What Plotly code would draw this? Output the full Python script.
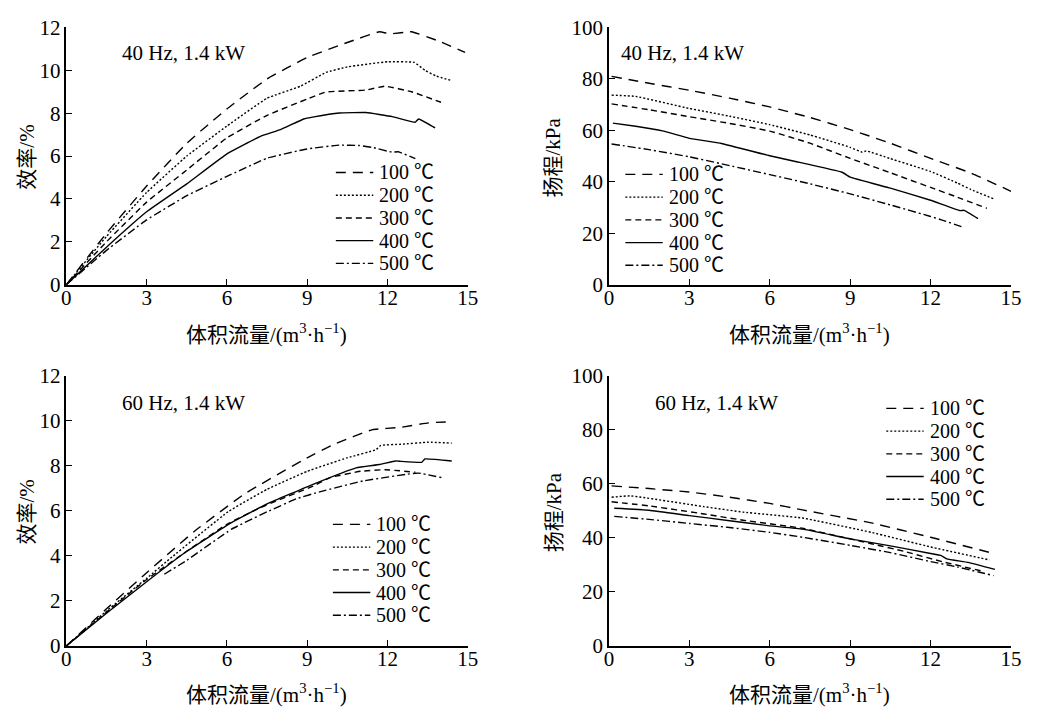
import plotly.graph_objects as go

W, H = 1043, 723
SERIF = "Liberation Serif, 'Noto Sans CJK SC', serif"

temps = ["100 ℃", "200 ℃", "300 ℃", "400 ℃", "500 ℃"]
dashes = ["10px,7px", "2px,2px", "6px,4px", "solid", "8px,3px,2px,3px"]

# ---- Panel 1: 40 Hz efficiency (%)
p1_x_100 = [0, 1.5, 3, 4.5, 6, 7.5, 9, 10.5, 11.7, 12.1, 12.9, 13.9, 14.9]
p1_y_100 = [0, 2.4, 4.6, 6.6, 8.2, 9.6, 10.6, 11.3, 11.8, 11.7, 11.8, 11.37, 10.84]
p1_x_200 = [0, 1.5, 3, 4.5, 6, 7.5, 8.75, 9.7, 10.5, 12, 13, 13.4, 13.8, 14.4]
p1_y_200 = [0, 2.25, 4.3, 6.0, 7.4, 8.7, 9.26, 9.9, 10.16, 10.4, 10.37, 10.0, 9.74, 9.52]
p1_x_300 = [0, 1.5, 3, 4.5, 6, 7.5, 9, 9.7, 11.2, 11.9, 12.9, 14.0]
p1_y_300 = [0, 2.0, 3.85, 5.35, 6.85, 7.9, 8.66, 8.99, 9.08, 9.26, 9.0, 8.51]
p1_x_400 = [0, 1.5, 3, 4.5, 6, 7.27, 8.0, 8.87, 9.25, 10.2, 11.2, 12.18, 13.04, 13.16, 13.78]
p1_y_400 = [0, 1.75, 3.4, 4.7, 6.1, 6.93, 7.23, 7.73, 7.83, 8.01, 8.03, 7.84, 7.58, 7.73, 7.31]
p1_x_500 = [0, 1.5, 3, 4.5, 6, 7.5, 8.99, 10.2, 10.95, 11.44, 12.18, 12.4, 13.04]
p1_y_500 = [0, 1.6, 3.02, 4.15, 5.05, 5.9, 6.33, 6.51, 6.49, 6.4, 6.18, 6.2, 5.88]

# ---- Panel 2: 40 Hz head (kPa)
p2_x_100 = [0.1, 1.5, 3, 4.5, 6, 7.5, 9, 10.5, 12, 13.5, 15]
p2_y_100 = [81, 78.3, 75.6, 72.5, 69.1, 65, 60.3, 55, 49.1, 43.4, 36.3]
p2_x_200 = [0.1, 1, 3, 4.5, 6, 7.5, 9, 9.45, 9.6, 10.5, 12, 13, 13.5, 14.4]
p2_y_200 = [73.7, 73.2, 68.5, 65.5, 62.2, 58.2, 53.4, 51.5, 52.0, 49, 44, 39.5, 37, 33.2]
p2_x_300 = [0.1, 1.5, 3, 4.5, 6, 7.5, 9, 10.5, 12, 13, 14.1]
p2_y_300 = [70.3, 68, 65.3, 62.7, 59.7, 55, 49.1, 43.5, 37.8, 34, 29.7]
p2_x_400 = [0.15, 1, 2, 3, 4.2, 6, 7, 8.7, 9.0, 10.5, 12, 13.1, 13.25, 13.77]
p2_y_400 = [62.8, 61.6, 59.8, 56.9, 54.9, 50.1, 47.8, 43.7, 41.8, 37.5, 32.8, 28.8, 28.9, 25.7]
p2_x_500 = [0.1, 1.5, 3, 4.5, 6, 7.5, 9, 10.5, 12, 12.4, 13.2]
p2_y_500 = [54.7, 52.5, 49.7, 46.3, 42.8, 39.2, 35.3, 31, 26.5, 25.2, 22.4]

# ---- Panel 3: 60 Hz efficiency (%)
p3_x_100 = [0, 1.5, 3, 4.8, 6.66, 9, 10, 11.44, 12.5, 13.53, 14.4]
p3_y_100 = [0, 1.65, 3.25, 5.1, 6.75, 8.35, 8.95, 9.6, 9.7, 9.9, 9.95]
p3_x_200 = [0, 1.5, 3, 3.96, 6.05, 7.5, 9, 10.5, 11.57, 11.75, 12.5, 13.53, 14.4]
p3_y_200 = [0, 1.55, 3.0, 3.96, 5.96, 6.95, 7.75, 8.35, 8.71, 8.9, 8.95, 9.04, 9.0]
p3_x_300 = [0, 1.5, 3, 4.5, 6, 7.27, 9.24, 9.85, 11.0, 11.93, 13.04]
p3_y_300 = [0, 1.5, 2.95, 4.2, 5.4, 6.15, 7.1, 7.47, 7.75, 7.82, 7.71]
p3_x_400 = [0, 1.5, 3, 4.5, 6.17, 7.5, 9.24, 10.83, 11.7, 12.3, 12.5, 13.28, 13.4, 14.4]
p3_y_400 = [0, 1.45, 2.85, 4.2, 5.47, 6.3, 7.18, 7.9, 8.05, 8.21, 8.19, 8.15, 8.3, 8.21]
p3_x_500 = [3.66, 4.5, 6.17, 7.5, 8.62, 9.5, 11.08, 12.67, 13.16, 14.02]
p3_y_500 = [3.18, 3.8, 5.18, 5.95, 6.54, 6.85, 7.32, 7.61, 7.67, 7.47]

# ---- Panel 4: 60 Hz head (kPa)
p4_x_100 = [0.1, 1.5, 3, 4.5, 6, 7.22, 9.79, 12, 14.35]
p4_y_100 = [59.2, 58.2, 56.9, 55, 52.7, 50.3, 45.5, 40.2, 34.2]
p4_x_200 = [0.1, 0.8, 3.55, 5, 7.22, 9.79, 12, 14.2]
p4_y_200 = [55.0, 55.5, 51.5, 49.5, 47.3, 42, 36.6, 31.8]
p4_x_300 = [0.1, 1.5, 3.55, 5, 7.22, 9.79, 11, 12.5, 14.0]
p4_y_300 = [53.3, 51.8, 48.8, 46.5, 43.5, 37.8, 35, 31, 27.5]
p4_x_400 = [0.2, 1.5, 3, 4.5, 6, 7.22, 9, 10.5, 12, 12.4, 12.6, 13.4, 14.4]
p4_y_400 = [50.9, 50.2, 48.2, 46.3, 44.4, 43.2, 39.6, 37, 34.2, 33.4, 32.2, 30.9, 28.3]
p4_x_500 = [0.2, 1.5, 3, 4.5, 6, 7.22, 9, 10.5, 12, 13, 14.35]
p4_y_500 = [47.9, 46.8, 45.3, 43.8, 42, 40.2, 37.2, 34.5, 31.2, 29.2, 26.0]

x_ticks = [0, 3, 6, 9, 12, 15]
eff_ticks = [0, 2, 4, 6, 8, 10, 12]
head_ticks = [0, 20, 40, 60, 80, 100]

panels = [
    ("x", "y", [(p1_x_100, p1_y_100), (p1_x_200, p1_y_200), (p1_x_300, p1_y_300), (p1_x_400, p1_y_400), (p1_x_500, p1_y_500)]),
    ("x2", "y2", [(p2_x_100, p2_y_100), (p2_x_200, p2_y_200), (p2_x_300, p2_y_300), (p2_x_400, p2_y_400), (p2_x_500, p2_y_500)]),
    ("x3", "y3", [(p3_x_100, p3_y_100), (p3_x_200, p3_y_200), (p3_x_300, p3_y_300), (p3_x_400, p3_y_400), (p3_x_500, p3_y_500)]),
    ("x4", "y4", [(p4_x_100, p4_y_100), (p4_x_200, p4_y_200), (p4_x_300, p4_y_300), (p4_x_400, p4_y_400), (p4_x_500, p4_y_500)]),
]

LW = 1.4
fig = go.Figure()
for xa, ya, series in panels:
    for (xs, ys), name, d in zip(series, temps, dashes):
        fig.add_trace(go.Scatter(
            x=xs, y=ys, mode="lines", name=name, xaxis=xa, yaxis=ya, showlegend=False,
            line=dict(color="black", width=LW, dash=d, shape="spline", smoothing=0.3),
        ))

def px_x(p):
    return p / W

def px_y(p):
    return 1 - p / H

xl = [px_x(62.3), px_x(470)]
xr = [px_x(613.3), px_x(1021.7)]
yt = [px_y(282), px_y(16)]
yb = [px_y(655.7), px_y(376)]

axis_common = dict(
    showline=True, linecolor="black", linewidth=1.5, ticks="inside", ticklen=6,
    tickwidth=1.3, tickcolor="black", showgrid=False, zeroline=False, mirror=False,
    tickfont=dict(family=SERIF, size=21, color="black"), fixedrange=True,
)

layout_axes = {}
for i, (xd, yd, yticks, yr) in enumerate([
    (xl, yt, eff_ticks, [0, 12]), (xr, yt, head_ticks, [0, 100]),
    (xl, yb, eff_ticks, [0, 12]), (xr, yb, head_ticks, [0, 100])], start=1):
    sfx = "" if i == 1 else str(i)
    layout_axes["xaxis" + sfx] = dict(axis_common, domain=xd, range=[0, 15], tickvals=x_ticks,
                                      anchor="y" + sfx, ticklabelstandoff=-7)
    layout_axes["yaxis" + sfx] = dict(axis_common, domain=yd, range=yr, tickvals=yticks,
                                      anchor="x" + sfx)

fig.update_layout(**layout_axes)

ann = []
shapes = []
def label(text, x, y, size=21, angle=0, xanchor="center"):
    ann.append(dict(text=text, x=px_x(x), y=px_y(y), xref="paper", yref="paper",
                    showarrow=False, textangle=angle, xanchor=xanchor, yanchor="middle",
                    font=dict(family=SERIF, size=size, color="black")))

# manual legends: (sample left, first row y) per panel
legend_spots = [(336, 166), (630, 168), (333, 530), (895, 410)]
ROW = 23.5
SAMPLE = 38
for lx, ly in legend_spots:
    for k, (name, d) in enumerate(zip(temps, dashes)):
        yy = ly + k * ROW
        shapes.append(dict(type="line", xref="paper", yref="paper",
                           x0=px_x(lx), x1=px_x(lx + SAMPLE), y0=px_y(yy), y1=px_y(yy),
                           line=dict(color="black", width=LW, dash=d)))
        label(name, lx + SAMPLE + 4, yy, size=20, xanchor="left")

xtitle = "体积流量/(m<sup>3</sup>·h<sup>−1</sup>)"
label(xtitle, 266, 333)
label(xtitle, 817, 333)
label(xtitle, 266, 705)
label(xtitle, 817, 705)
label("效率/%", 22, 150, angle=-90)
label("扬程/kPa", 557, 150, angle=-90)
label("效率/%", 22, 517, angle=-90)
label("扬程/kPa", 557, 517, angle=-90)
label("40 Hz, 1.4 kW", 117, 42, size=21, xanchor="left")
label("40 Hz, 1.4 kW", 624, 42, size=21, xanchor="left")
label("60 Hz, 1.4 kW", 117, 404, size=21, xanchor="left")
label("60 Hz, 1.4 kW", 658, 404, size=21, xanchor="left")

fig.update_layout(
    annotations=ann, shapes=shapes, width=W, height=H, margin=dict(l=0, r=0, t=0, b=0),
    paper_bgcolor="white", plot_bgcolor="white", showlegend=False,
)

fig.write_html("out.html", config={"displayModeBar": False})
